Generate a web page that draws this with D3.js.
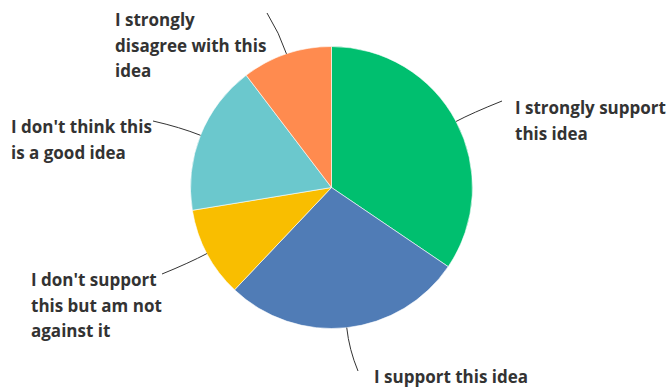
<!DOCTYPE html>
<html>
<head>
<meta charset="utf-8">
<script src="https://cdn.jsdelivr.net/npm/d3@7"></script>
<style>
  html, body { margin: 0; padding: 0; background: #fff; }
  svg { display: block; }
  .lbl { font-family: "Open Sans", "Noto Sans", sans-serif; font-weight: 700; font-size: 17px; fill: #333; }
</style>
</head>
<body>
<svg id="chart" width="670" height="387"></svg>
<script>
// Responses per answer option
const categories = [
  "I strongly support this idea",
  "I support this idea",
  "I don't support this but am not against it",
  "I don't think this is a good idea",
  "I strongly disagree with this idea"
];
const counts = [10, 8, 3, 5, 3];
const colors = ["#00BF6F", "#507CB6", "#F9BE00", "#6BC8CD", "#FF8B4F"];

// Wrapped label lines, label anchor (left x, first-line centre y) and leader end
const labelLines = [
  ["I strongly support", "this idea"],
  ["I support this idea"],
  ["I don't support", "this but am not", "against it"],
  ["I don't think this", "is a good idea"],
  ["I strongly", "disagree with this", "idea"]
];
const labelPos = [[515, 108], [374, 377], [31, 280], [11, 127], [115, 20]];
const leaderEnd = [[502, 101], [358, 371], [162, 274], [153, 121], [267, 13]];
const leaderBend = [18, 22, 20, 22, 22];

const W = 670, H = 387;
const cx = 331.5, cy = 187.5, R = 141;
const lineH = 25.5;

const svg = d3.select("#chart");
const g = svg.append("g").attr("transform", `translate(${cx},${cy})`);

const pie = d3.pie().sort(null).value(d => d)(counts);
const arc = d3.arc().innerRadius(0).outerRadius(R);

g.selectAll("path.slice")
  .data(pie)
  .join("path")
  .attr("class", "slice")
  .attr("d", arc)
  .attr("fill", (d, i) => colors[i])
  .attr("stroke", "#fff")
  .attr("stroke-width", 0.6);

// Leader lines: start at the rim at the slice's mid angle, bend outward to the label
const pt = (a, r) => [Math.sin(a) * r, -Math.cos(a) * r];
g.selectAll("path.leader")
  .data(pie)
  .join("path")
  .attr("class", "leader")
  .attr("fill", "none")
  .attr("stroke", "#333")
  .attr("stroke-width", 1)
  .attr("d", (d, i) => {
    const a = (d.startAngle + d.endAngle) / 2;
    const s = pt(a, R);
    const c = pt(a, R + leaderBend[i]);
    const e = [leaderEnd[i][0] - cx, leaderEnd[i][1] - cy];
    return `M${s[0]},${s[1]}Q${c[0]},${c[1]} ${e[0]},${e[1]}`;
  });

// Labels
const labels = svg.selectAll("text.lbl")
  .data(categories)
  .join("text")
  .attr("class", "lbl")
  .attr("x", (d, i) => labelPos[i][0])
  .attr("y", (d, i) => labelPos[i][1] + 6);

labels.each(function(d, i) {
  d3.select(this).selectAll("tspan")
    .data(labelLines[i])
    .join("tspan")
    .attr("x", labelPos[i][0])
    .attr("dy", (t, j) => j === 0 ? 0 : lineH)
    .text(t => t);
});
</script>
</body>
</html>
